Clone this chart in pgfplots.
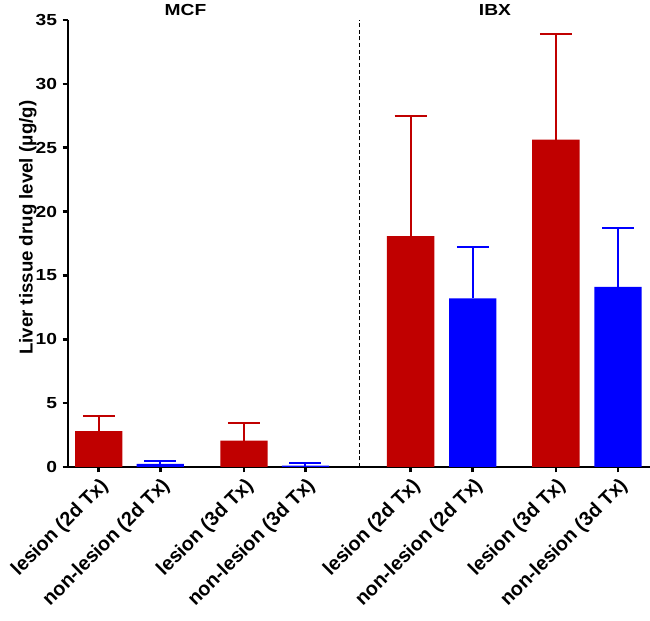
\documentclass[border=0pt]{standalone}
\usepackage{pgfplots}
\usepackage{pgfplotstable}
\pgfplotsset{compat=1.18}
\usepackage{fontspec}
\setmainfont{Liberation Sans}
\definecolor{barred}{RGB}{192,0,0}
\definecolor{barblue}{RGB}{0,0,255}
\pgfplotstableread{
x y err
0 2.80 1.17
2.36 2.06 1.41
5.07 18.07 9.43
7.43 25.63 8.25
}\redtab
\pgfplotstableread{
x y err
1 0.25 0.20
3.36 0.10 0.20
6.08 13.20 4.00
8.44 14.10 4.64
}\bluetab
\begin{document}
\begin{tikzpicture}
\begin{axis}[name=ax,
  scale only axis, width=436.5pt, height=335.25pt,
  xmin=-0.5, xmax=8.96, ymin=0, ymax=35,
  axis x line*=bottom, axis y line*=left,
  axis line style={line width=2pt, black},
  clip=false,
  ybar, bar width=0.77,
  ytick={0,5,...,35},
  xtick={0,1,2.36,3.36,5.07,6.08,7.43,8.44},
  xticklabels={lesion (2d Tx),non-lesion (2d Tx),lesion (3d Tx),non-lesion (3d Tx),lesion (2d Tx),non-lesion (2d Tx),lesion (3d Tx),non-lesion (3d Tx)},
  tick align=outside, major tick length=4pt,
  tick style={line width=2pt, black},
  /pgf/number format/assume math mode=true,
  yticklabel style={font=\fontsize{12}{14}\selectfont\bfseries, xscale=1.2},
  xticklabel style={font=\fontsize{14.8}{16}\selectfont\bfseries, rotate=45, anchor=north east, inner sep=2pt},
  ylabel={Liver tissue drug level (μg/g)},
  every axis y label/.style={at={(axis description cs:-0.069,0.535)}, rotate=90, anchor=center, font=\fontsize{14}{16}\selectfont\bfseries},
  error bars/y dir=plus, error bars/y explicit,
]
\addplot[bar shift=0pt, fill=barred, draw=none,
  error bars/error bar style={line width=1.5pt, barred},
  error bars/error mark options={rotate=90, line width=1.5pt, barred, mark size=12pt}]
  table[x=x, y=y, y error=err] {\redtab};
\addplot[bar shift=0pt, fill=barblue, draw=none,
  error bars/error bar style={line width=1.5pt, barblue},
  error bars/error mark options={rotate=90, line width=1.5pt, barblue, mark size=12pt}]
  table[x=x, y=y, y error=err] {\bluetab};
\draw[densely dashed, line width=0.6pt] (axis cs:4.23,0) -- (axis cs:4.23,35);
\node[font=\fontsize{12}{14}\selectfont\bfseries, xscale=1.2] at (axis cs:1.41,35.75) {MCF};
\node[font=\fontsize{12}{14}\selectfont\bfseries, xscale=1.2] at (axis cs:6.44,35.75) {IBX};
\end{axis}
\pgfresetboundingbox
\path ([shift={(-51pt,-115.5pt)}]ax.south west) rectangle ([shift={(436.5pt,350.25pt)}]ax.south west);
\end{tikzpicture}
\end{document}
